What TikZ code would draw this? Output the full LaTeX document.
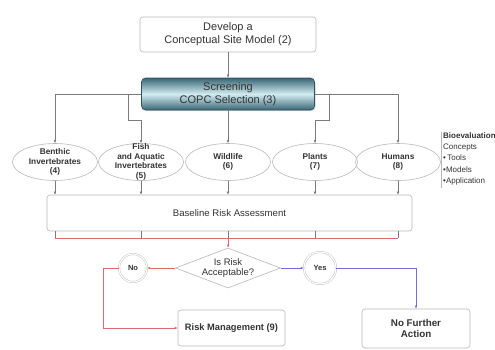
\documentclass[tikz,border=0pt]{standalone}
\usepackage{fontspec}
\setmainfont{Liberation Sans}
\usetikzlibrary{shapes.geometric,arrows.meta,shadows}
\definecolor{lineg}{HTML}{7A7A7A}
\definecolor{boxg}{HTML}{B8B8B8}
\definecolor{riskred}{HTML}{E06A6A}
\definecolor{okblue}{HTML}{6E6ED8}
\definecolor{tealdark}{HTML}{3A6675}
\definecolor{teallight}{HTML}{D2ECF1}
\definecolor{inkg}{HTML}{333333}

\begin{document}
\begin{tikzpicture}[x=1pt,y=-1pt,
  font=\fontsize{10}{11.5}\selectfont, text=inkg,
  rbox/.style={draw=boxg, line width=0.6pt, rounded corners=3pt, fill=white,
    align=center, inner sep=2pt},
  organism/.style={ellipse, draw=boxg, line width=0.6pt, minimum width=85pt,
    minimum height=37pt, align=center, inner sep=-6pt,
    font=\fontsize{8.3}{9.6}\selectfont\bfseries},
  ring/.style={circle, draw=boxg, double=white, double distance=1.2pt,
    line width=0.4pt, fill=white, inner sep=0pt,
    font=\fontsize{7.5}{8}\selectfont\bfseries},
  flow/.style={draw=lineg, line width=0.5pt},
  redflow/.style={draw=riskred, line width=0.7pt},
  blueflow/.style={draw=okblue, line width=0.7pt},
  tip/.style={-{Latex[length=3pt,width=2.6pt]}},
]
\useasboundingbox (0,0) rectangle (495,349);

% top of the process
\node[rbox, minimum width=176pt, minimum height=35pt,
  font=\fontsize{11}{13}\selectfont] (csm) at (228,34.5)
  {Develop a\\Conceptual Site Model (2)};
\node[draw=tealdark!80!black, line width=0.6pt, rounded corners=4pt,
  top color=tealdark, bottom color=tealdark, middle color=teallight,
  drop shadow={opacity=0.35, shadow xshift=1pt, shadow yshift=-1pt},
  minimum width=173pt, minimum height=32pt, align=center, inner sep=0pt,
  font=\fontsize{11}{13.5}\selectfont] (scr) at (228,94)
  {Screening\\COPC Selection (3)};

% receptor groups
\node[organism] (benth) at (55,162) {Benthic\\Invertebrates\\(4)};
\node[organism] (fish) at (141,162) {Fish\\and Aquatic\\Invertebrates\\(5)};
\node[organism] (wild) at (228,162) {Wildlife\\(6)};
\node[organism] (plant) at (315,162) {Plants\\(7)};
\node[organism] (hum) at (398,162) {Humans\\(8)};

% side list
\draw[boxg, line width=0.5pt] (441,132) -- (441,188);
\node[anchor=north west, align=left, inner sep=0pt,
  font=\fontsize{8}{11.4}\selectfont] (bio) at (443,132)
  {\textbf{Bioevaluation}\\Concepts\\\textbullet\,Tools\\\textbullet Models\\\textbullet Application};

% assessment and decision
\node[rbox, minimum width=365pt, minimum height=36pt,
  font=\fontsize{9.6}{11}\selectfont] (bra) at (229.5,213)
  {Baseline Risk Assessment};
\node[diamond, draw=boxg, line width=0.6pt, fill=white, aspect=2.6,
  minimum width=105pt, minimum height=40pt, inner sep=-4pt, align=center,
  font=\fontsize{9.5}{10.5}\selectfont] (dec) at (228,268) {Is Risk\\Acceptable?};
\node[ring, minimum size=28pt] (no) at (133,268) {No};
\node[ring, minimum size=32pt] (yes) at (320,268) {Yes};
\node[rbox, minimum width=107pt, minimum height=36pt,
  font=\fontsize{9.3}{10.5}\selectfont\bfseries] (rm) at (231.5,328) {Risk Management (9)};
\node[rbox, minimum width=108pt, minimum height=39pt,
  font=\fontsize{9.8}{10.5}\selectfont\bfseries] (nfa) at (416,328.5) {No Further\\Action};

% bend points
\coordinate (jf) at (128,120);
\coordinate (jp) at (329,120);
\coordinate (rl) at (55,238);
\coordinate (rr) at (398,238);
\coordinate (nbend) at (103,328);
\coordinate (ybend) at (416,268);

% screening branches
\draw[flow, tip] (csm) -- (scr);
\draw[flow] (scr.west) -- (scr.west -| benth);
\draw[flow] (scr.east) -- (scr.east -| hum);
\draw[flow, tip] (scr.west -| benth) -- (benth.north);
\draw[flow, tip] (scr.east -| hum) -- (hum.north);
\draw[flow, tip] (scr.west -| jf) -- (jf) -| (fish.north);
\draw[flow, tip] (scr.east -| jp) -- (jp) -| (plant.north);
\draw[flow, tip] (scr) -- (wild);

% into the baseline assessment
\foreach \r in {benth,fish,wild,plant,hum}
  \draw[flow, tip] (\r.south) -- (\r |- bra.north);

% out of the baseline assessment
\foreach \r in {benth,fish,wild,plant,hum}
  \draw[flow] (bra.south -| \r) -- (rl -| \r);
\draw[redflow] (rl) -- (rr);
\draw[redflow, tip] (rl -| dec) -- (dec.north);

% decision outcomes
\draw[redflow, tip] (dec.west) -- (no.east);
\draw[redflow, tip] (no.west) -| (nbend) -- (rm.west);
\draw[blueflow, tip] (dec.east) -- (yes.west);
\draw[blueflow, tip] (yes.east) -- (ybend) -- (nfa.north);
\end{tikzpicture}
\end{document}
